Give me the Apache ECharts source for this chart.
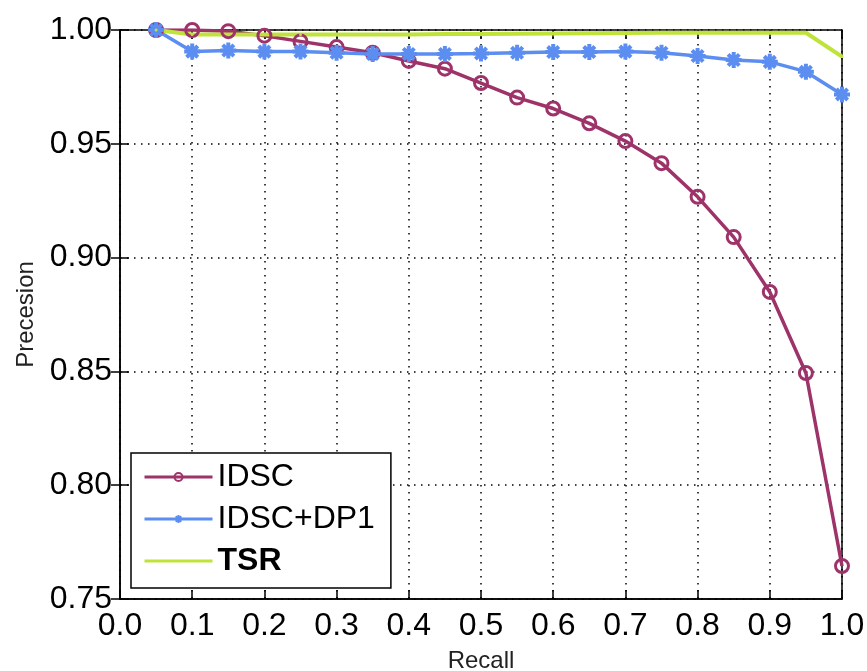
<!DOCTYPE html>
<html>
<head>
<meta charset="utf-8">
<script src="https://cdn.jsdelivr.net/npm/echarts@6/dist/echarts.min.js"></script>
<style>
  html, body { margin: 0; padding: 0; background: #fff; }
  #chart { width: 867px; height: 671px; }
</style>
</head>
<body>
<div id="chart"></div>
<script>
// recall points (x) shared by all curves
const recall = [0.05, 0.1, 0.15, 0.2, 0.25, 0.3, 0.35, 0.4, 0.45, 0.5,
  0.55, 0.6, 0.65, 0.7, 0.75, 0.8, 0.85, 0.9, 0.95, 1.0];

const idsc = [1.0, 1.0, 0.9995, 0.9975, 0.995, 0.9925, 0.990, 0.9864, 0.983, 0.9767,
  0.9703, 0.9655, 0.959, 0.9512, 0.9415, 0.9267, 0.909, 0.8849, 0.8493, 0.7645];

const idscDp1 = [1.0, 0.9905, 0.991, 0.9905, 0.9905, 0.990, 0.9895, 0.9895, 0.9895, 0.9897,
  0.990, 0.9903, 0.9903, 0.9905, 0.990, 0.9886, 0.9868, 0.986, 0.9817, 0.9717];

const tsr = [1.0, 0.998, 0.998, 0.998, 0.998, 0.998, 0.998, 0.998, 0.9982, 0.9982,
  0.9984, 0.9985, 0.9986, 0.9987, 0.9988, 0.9988, 0.9988, 0.9988, 0.9988, 0.9883];

const seriesNames = ['IDSC', 'IDSC+DP1', 'TSR'];

const font = 'Liberation Sans, Arial, sans-serif';
const asterisk = 'path://M0,-10L0,10M-10,0L10,0M-7,-7L7,7M-7,7L7,-7';

const pairs = ys => recall.map((x, i) => [x, ys[i]]);

const chart = echarts.init(document.getElementById('chart'));

const dotted = { color: '#000', width: 1.5, type: [1.5, 5.5] };
const tick = { inside: true, length: 9, lineStyle: { color: '#000', width: 1.5 } };

chart.setOption({
  animation: false,
  backgroundColor: '#fff',
  grid: {
    left: 120, top: 30, right: 25, bottom: 72,
    outerBoundsMode: 'none',
    show: true, borderColor: '#000', borderWidth: 1.5, backgroundColor: 'transparent'
  },
  legend: {
    orient: 'vertical',
    left: 131, top: 453,
    data: [
      { name: seriesNames[0] },
      { name: seriesNames[1] },
      { name: seriesNames[2], itemStyle: { opacity: 0 }, textStyle: { fontWeight: 'bold' } }
    ],
    itemWidth: 68, itemHeight: 10, itemGap: 10,
    padding: [8, 16, 11, 12],
    lineStyle: { width: 3 },
    backgroundColor: '#fff', borderColor: '#000', borderWidth: 1.5,
    textStyle: { fontFamily: font, fontSize: 32, lineHeight: 32, color: '#000' }
  },
  xAxis: [{
    type: 'value', min: 0, max: 1, interval: 0.1,
    name: 'Recall', nameLocation: 'middle', nameGap: 50,
    nameTextStyle: { fontFamily: font, fontSize: 24, color: '#222' },
    axisLine: { lineStyle: { color: '#000', width: 1.5 } },
    axisTick: tick,
    axisLabel: { fontFamily: font, fontSize: 32, color: '#000', margin: 11,
      formatter: v => v.toFixed(1) },
    splitLine: { show: true, lineStyle: dotted }
  }, {
    type: 'value', min: 0, max: 1, interval: 0.1, position: 'top',
    axisLine: { show: false }, axisTick: tick,
    axisLabel: { show: false }, splitLine: { show: false }
  }],
  yAxis: [{
    type: 'value', min: 0.75, max: 1.0, interval: 0.05,
    name: 'Precesion', nameLocation: 'middle', nameGap: 82,
    nameTextStyle: { fontFamily: font, fontSize: 24, color: '#222' },
    axisLine: { show: true, lineStyle: { color: '#000', width: 1.5 } },
    axisTick: Object.assign({ show: true }, tick),
    axisLabel: { fontFamily: font, fontSize: 32, color: '#000', margin: 8,
      formatter: v => v.toFixed(2) },
    splitLine: { show: true, lineStyle: dotted }
  }, {
    type: 'value', min: 0.75, max: 1.0, interval: 0.05, position: 'right',
    axisLine: { show: false }, axisTick: Object.assign({ show: true }, tick),
    axisLabel: { show: false }, splitLine: { show: false }
  }],
  series: [{
    name: seriesNames[0], type: 'line', data: pairs(idsc),
    symbol: 'circle', symbolSize: 13,
    lineStyle: { color: '#9e336a', width: 3.5 },
    itemStyle: { color: 'rgba(0,0,0,0)', borderColor: '#9e336a', borderWidth: 3 }
  }, {
    name: seriesNames[1], type: 'line', data: pairs(idscDp1),
    symbol: asterisk, symbolSize: 16,
    lineStyle: { color: '#5b8ef0', width: 3.5 },
    itemStyle: { color: '#5b8ef0', borderColor: '#5b8ef0', borderWidth: 4 }
  }, {
    name: seriesNames[2], type: 'line', data: pairs(tsr),
    symbol: 'circle', symbolSize: 3,
    lineStyle: { color: '#bfe33a', width: 4 },
    itemStyle: { color: '#bfe33a' }
  }]
});
</script>
</body>
</html>
